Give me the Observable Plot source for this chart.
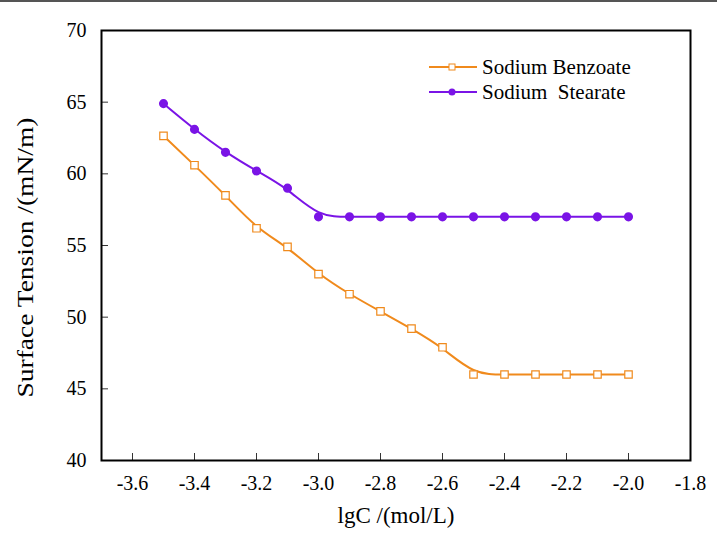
<!DOCTYPE html>
<html>
<head>
<meta charset="utf-8">
<script src="https://cdn.jsdelivr.net/npm/d3@7"></script>
<script src="https://cdn.jsdelivr.net/npm/@observablehq/plot@0.6"></script>
<style>
  html, body { margin: 0; padding: 0; background: #fff; }
  #wrap { position: relative; width: 717px; height: 546px; overflow: hidden; }
  #topline { position: absolute; left: 0; top: 0; width: 717px; height: 2px; background: #555; }
  #legend { position: absolute; left: 0; top: 0; }
  #wrap svg text { font-family: 'Liberation Serif', 'Times New Roman', serif; }
</style>
</head>
<body>
<div id="wrap"><div id="topline"></div></div>
<script>
const lgC = [-3.5, -3.4, -3.3, -3.2, -3.1, -3.0, -2.9, -2.8, -2.7, -2.6, -2.5, -2.4, -2.3, -2.2, -2.1, -2.0];
const benzoate = [62.65, 60.6, 58.5, 56.2, 54.9, 53.0, 51.6, 50.4, 49.2, 47.9, 46.0, 46.0, 46.0, 46.0, 46.0, 46.0];
const stearate = [64.9, 63.1, 61.5, 60.2, 59.0, 57.0, 57.0, 57.0, 57.0, 57.0, 57.0, 57.0, 57.0, 57.0, 57.0, 57.0];
const seriesNames = ["Sodium Benzoate", "Sodium  Stearate"];
const colors = ["#f08a1c", "#7a14e6"];
const xTicks = [-3.6, -3.4, -3.2, -3.0, -2.8, -2.6, -2.4, -2.2, -2.0, -1.8];
const yTicks = [40, 45, 50, 55, 60, 65, 70];
const xTitle = "lgC /(mol/L)";
const yTitle = "Surface Tension /(mN/m)";

const benzData = lgC.map((x, i) => ({x, y: benzoate[i]}));
const stearData = lgC.map((x, i) => ({x, y: stearate[i]}));

const font = "'Liberation Serif', 'Times New Roman', serif";

const chart = Plot.plot({
  width: 717,
  height: 546,
  marginLeft: 101,
  marginRight: 27,
  marginTop: 30,
  marginBottom: 86,
  style: {fontFamily: font, background: "white", color: "black", overflow: "visible"},
  x: {domain: [-3.7, -1.8], ticks: xTicks},
  y: {domain: [40, 70], ticks: yTicks},
  marks: [
    Plot.axisX(xTicks, {tickSize: 0, tickPadding: 15, fontSize: 20, fontFamily: font, fontVariant: "normal", tickFormat: d => d.toFixed(1), label: null}),
    Plot.axisY(yTicks, {tickSize: 0, tickPadding: 15, fontSize: 20, fontFamily: font, fontVariant: "normal", label: null}),
    Plot.ruleX(xTicks, {x: d => d, y1: 40, y2: 40, insetTop: -7, stroke: "#333", strokeWidth: 1}),
    Plot.ruleY(yTicks, {y: d => d, x1: -3.7, x2: -3.7, insetRight: -7, stroke: "#333", strokeWidth: 1}),
    Plot.line(benzData, {x: "x", y: "y", curve: "basis", stroke: colors[0], strokeWidth: 2}),
    Plot.line(stearData, {x: "x", y: "y", curve: "basis", stroke: colors[1], strokeWidth: 2}),
    Plot.dot(benzData, {x: "x", y: "y", symbol: "square", r: 4.2, fill: "white", stroke: colors[0], strokeWidth: 1.2}),
    Plot.dot(stearData, {x: "x", y: "y", symbol: "circle", r: 3.8, fill: colors[1], stroke: colors[1]}),
    Plot.frame({stroke: "black", strokeWidth: 2}),
    Plot.text([xTitle], {frameAnchor: "bottom", dy: 62, fontSize: 23, fontFamily: font, fill: "black", className: "xtitle"}),
    Plot.text([yTitle], {frameAnchor: "left", textAnchor: "middle", dx: -76, dy: 12, rotate: -90, fontSize: 24, fontFamily: font, fill: "black", className: "ytitle"})
  ]
});
document.getElementById("wrap").appendChild(chart);
// slightly stretch the y title along its length, as in the reference
d3.select(chart).selectAll(".ytitle text").attr("textLength", 280).attr("lengthAdjust", "spacingAndGlyphs");

// legend overlay
const leg = d3.select("#wrap").append("svg")
  .attr("id", "legend").attr("width", 717).attr("height", 546)
  .style("font-family", font);
seriesNames.forEach((name, i) => {
  const cy = 67 + i * 25;
  leg.append("line").attr("x1", 429).attr("x2", 477).attr("y1", cy).attr("y2", cy)
    .attr("stroke", colors[i]).attr("stroke-width", 2);
  if (i === 0) {
    leg.append("rect").attr("x", 449).attr("y", cy - 3).attr("width", 6).attr("height", 6)
      .attr("fill", "white").attr("stroke", colors[i]).attr("stroke-width", 1);
  } else {
    leg.append("circle").attr("cx", 452).attr("cy", cy).attr("r", 3.5).attr("fill", colors[i]);
  }
  leg.append("text").attr("x", 482).attr("y", cy).attr("dy", "0.35em")
    .attr("font-size", 21).attr("fill", "black").style("white-space", "pre").text(name);
});
</script>
</body>
</html>
